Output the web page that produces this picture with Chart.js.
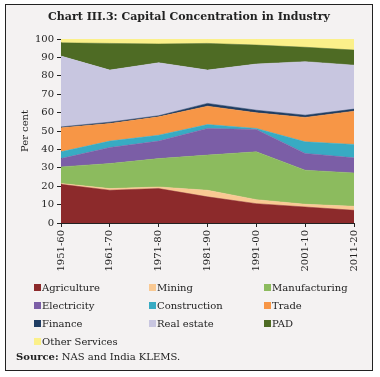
<!DOCTYPE html>
<html>
<head>
<meta charset="utf-8">
<script src="https://cdn.jsdelivr.net/npm/chart.js"></script>
<style>
  body { margin: 0; background: #ffffff; font-family: "DejaVu Serif", serif; }
  #frame {
    position: absolute; left: 5px; top: 4px; width: 366px; height: 365px;
    border: 1px solid #222; background: #f4f2f2;
  }
  #title {
    position: absolute; left: 0; top: 5px; width: 366px; text-align: center;
    font-weight: bold; font-size: 11px; color: #222;
  }
  #wrap { position: absolute; left: 0; top: 0; width: 366px; height: 278px; }
  #legend {
    position: absolute; left: 28px; top: 273px; width: 345px;
    display: grid; grid-template-columns: 115px 115px 115px; grid-auto-rows: 18px;
    font-size: 10px; color: #222;
  }
  #legend div { display: flex; align-items: center; white-space: nowrap; }
  #legend span.box { width: 7px; height: 7px; margin-right: 1px; display: inline-block; }
  #source { position: absolute; left: 10px; top: 346px; font-size: 10px; color: #222; }
</style>
</head>
<body>
<div id="frame">
  <div id="wrap"><canvas id="chart" width="366" height="278"></canvas></div>
  <div id="title">Chart III.3: Capital Concentration in Industry</div>
  <div id="legend"></div>
  <div id="source"><b>Source:</b> NAS and India KLEMS.</div>
</div>
<script>
// decades
const categories = ['1951-60', '1961-70', '1971-80', '1981-90', '1991-00', '2001-10', '2011-20'];

// share in capital stock, per cent
const agriculture   = [21.0, 17.8, 18.7, 14.2, 10.5, 8.7, 6.9];
const mining        = [0.5, 0.9, 0.9, 3.6, 2.2, 1.5, 2.2];
const manufacturing = [9.0, 13.6, 15.4, 19.1, 26.0, 18.5, 18.1];
const electricity   = [4.5, 8.7, 9.5, 14.5, 12.1, 9.1, 8.2];
const construction  = [3.7, 3.5, 3.2, 2.1, 0.6, 6.3, 7.3];
const trade         = [13.0, 9.6, 10.0, 10.0, 8.5, 13.3, 18.1];
const finance       = [0.5, 0.7, 0.6, 1.5, 1.4, 1.2, 1.1];
const realEstate    = [38.5, 28.3, 28.8, 18.1, 25.1, 29.1, 23.9];
const pad           = [7.2, 14.5, 10.2, 14.5, 10.3, 7.8, 8.2];
const otherServices = [2.1, 2.4, 2.7, 2.4, 3.3, 4.5, 6.0];

const yTicks = [0, 10, 20, 30, 40, 50, 60, 70, 80, 90, 100];

const series = [
  { label: 'Agriculture', data: agriculture, color: '#8c2a2b' },
  { label: 'Mining', data: mining, color: '#f9c993' },
  { label: 'Manufacturing', data: manufacturing, color: '#8cbb5e' },
  { label: 'Electricity', data: electricity, color: '#7b5ea6' },
  { label: 'Construction', data: construction, color: '#38abc3' },
  { label: 'Trade', data: trade, color: '#f79646' },
  { label: 'Finance', data: finance, color: '#1f3d63' },
  { label: 'Real estate', data: realEstate, color: '#c8c6e0' },
  { label: 'PAD', data: pad, color: '#4e6b24' },
  { label: 'Other Services', data: otherServices, color: '#fbf08a' },
];

const font = { family: '"DejaVu Serif", serif', size: 10 };

new Chart(document.getElementById('chart'), {
  type: 'line',
  data: {
    labels: categories,
    datasets: series.map((s, i) => ({
      label: s.label,
      data: s.data,
      backgroundColor: s.color,
      borderColor: s.color,
      borderWidth: 0.5,
      pointRadius: 0,
      tension: 0,
      fill: i === 0 ? 'origin' : '-1',
    })),
  },
  options: {
    responsive: false,
    animation: false,
    layout: { padding: { left: 0, right: 18, top: 34, bottom: 0 } },
    plugins: {
      legend: { display: false },
      tooltip: { enabled: false },
    },
    scales: {
      x: {
        offset: false,
        grid: { drawOnChartArea: false, color: '#222', tickLength: 4 },
        border: { color: '#222', width: 1 },
        ticks: { color: '#222', font: font, minRotation: 90, maxRotation: 90, padding: 3 },
        afterFit: (scale) => { scale.height = 60; },
      },
      y: {
        stacked: true,
        min: 0,
        max: 100,
        afterBuildTicks: (scale) => { scale.ticks = yTicks.map(v => ({ value: v })); },
        grid: { drawOnChartArea: false, color: '#222', tickLength: 4 },
        border: { color: '#222', width: 1 },
        ticks: { color: '#222', font: font, padding: 3 },
        title: { display: true, text: 'Per cent', color: '#222', font: font, padding: { top: 13, bottom: 0 } },
        afterFit: (scale) => { scale.width = 55; },
      },
    },
  },
});

// legend in three columns
const legend = document.getElementById('legend');
series.forEach(s => {
  const item = document.createElement('div');
  item.innerHTML = '<span class="box" style="background:' + s.color + '"></span>' + s.label;
  legend.appendChild(item);
});
</script>
</body>
</html>
